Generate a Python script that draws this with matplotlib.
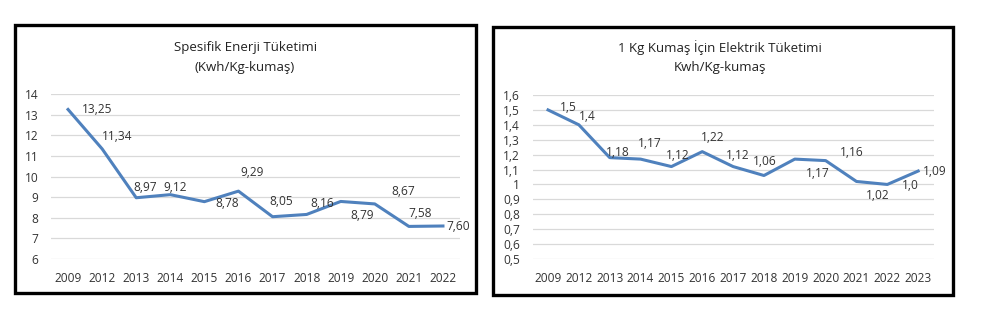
import matplotlib
matplotlib.use("Agg")
import matplotlib.pyplot as plt
from matplotlib.patches import Rectangle

plt.rcParams["font.family"] = ["Open Sans", "DejaVu Sans"]

# left chart data
years_left = ["2009", "2012", "2013", "2014", "2015", "2016", "2017", "2018", "2019", "2020", "2021", "2022"]
energy = [13.25, 11.34, 8.97, 9.12, 8.78, 9.29, 8.05, 8.16, 8.79, 8.67, 7.58, 7.60]
energy_labels = ["13,25", "11,34", "8,97", "9,12", "8,78", "9,29", "8,05", "8,16", "8,79", "8,67", "7,58", "7,60"]
energy_ticks = [6, 7, 8, 9, 10, 11, 12, 13, 14]

# right chart data
years_right = ["2009", "2012", "2013", "2014", "2015", "2016", "2017", "2018", "2019", "2020", "2021", "2022", "2023"]
electric = [1.5, 1.4, 1.18, 1.17, 1.12, 1.22, 1.12, 1.06, 1.17, 1.16, 1.02, 1.0, 1.09]
electric_labels = ["1,5", "1,4", "1,18", "1,17", "1,12", "1,22", "1,12", "1,06", "1,17", "1,16", "1,02", "1,0", "1,09"]
electric_ticks = [0.5, 0.6, 0.7, 0.8, 0.9, 1.0, 1.1, 1.2, 1.3, 1.4, 1.5, 1.6]
electric_ticklabels = ["0,5", "0,6", "0,7", "0,8", "0,9", "1", "1,1", "1,2", "1,3", "1,4", "1,5", "1,6"]

# label offsets in pixels (dx right, dy down)
left_offsets = [(29, 0), (15, -12), (9, -10), (5, -7), (23, 2), (14, -19), (9, -15),
                (16, -11), (21, 14), (28, -12), (11, -13), (15, 0)]
right_offsets = [(20, -2), (8, -8), (8, -5), (9, -16), (6, -11), (10, -14), (5, -11),
                 (1, -14), (23, 14), (26, -8), (21, 14), (23, 1), (17, 0)]

W, H = 1000, 336
LINE = "#4f81bd"
GRID = "#d9d9d9"
TXT = "#333333"

fig = plt.figure(figsize=(W / 100, H / 100), dpi=100)
fig.patch.set_facecolor("white")


def px_axes(x0, x1, ytop, ybot):
    return fig.add_axes([x0 / W, 1 - ybot / H, (x1 - x0) / W, (ybot - ytop) / H])


def draw(ax, cats, vals, labels, offsets, ticks, ticklabels, ylim, fs):
    x = list(range(len(cats)))
    ax.plot(x, vals, color=LINE, lw=2.2, solid_joinstyle="round")
    ax.set_xlim(-0.5, len(cats) - 0.5)
    ax.set_ylim(*ylim)
    ax.set_yticks(ticks)
    ax.set_yticklabels(ticklabels)
    ax.set_xticks(x)
    ax.set_xticklabels(cats)
    ax.grid(axis="y", color=GRID, lw=0.9)
    ax.set_axisbelow(True)
    for s in ax.spines.values():
        s.set_visible(False)
    ax.tick_params(length=0, labelsize=fs, colors=TXT, pad=9)
    ax.tick_params(axis="x", pad=9)
    for xi, v, lab, (dx, dy) in zip(x, vals, labels, offsets):
        ax.annotate(lab, (xi, v), xytext=(dx * 0.72, -dy * 0.72), textcoords="offset points",
                    ha="center", va="center", fontsize=fs, color=TXT)


ax1 = px_axes(51, 460, 94, 259)
draw(ax1, years_left, energy, energy_labels, left_offsets,
     energy_ticks, [str(t) for t in energy_ticks], (6, 14), 8.6)

ax2 = px_axes(532.6, 933.6, 95, 259)
draw(ax2, years_right, electric, electric_labels, right_offsets,
     electric_ticks, electric_ticklabels, (0.5, 1.6), 8.6)

fig.text(245 / W, 1 - 48 / H, "Spesifik Enerji Tüketimi", ha="center", va="center", fontsize=9.5, color="#222222")
fig.text(245 / W, 1 - 67 / H, "(Kwh/Kg-kumaş)", ha="center", va="center", fontsize=9.5, color="#222222")
fig.text(720 / W, 1 - 48 / H, "1 Kg Kumaş İçin Elektrik Tüketimi", ha="center", va="center", fontsize=9.5, color="#222222")
fig.text(720 / W, 1 - 67 / H, "Kwh/Kg-kumaş", ha="center", va="center", fontsize=9.5, color="#222222")

for x0, y0, x1, y1 in [(15, 25, 476, 293), (493, 27, 953, 295)]:
    fig.patches.append(Rectangle((x0 / W, 1 - y1 / H), (x1 - x0) / W, (y1 - y0) / H,
                                 transform=fig.transFigure, fill=False, ec="black", lw=2.4))

fig.savefig("out.png", dpi=100, facecolor="white")
